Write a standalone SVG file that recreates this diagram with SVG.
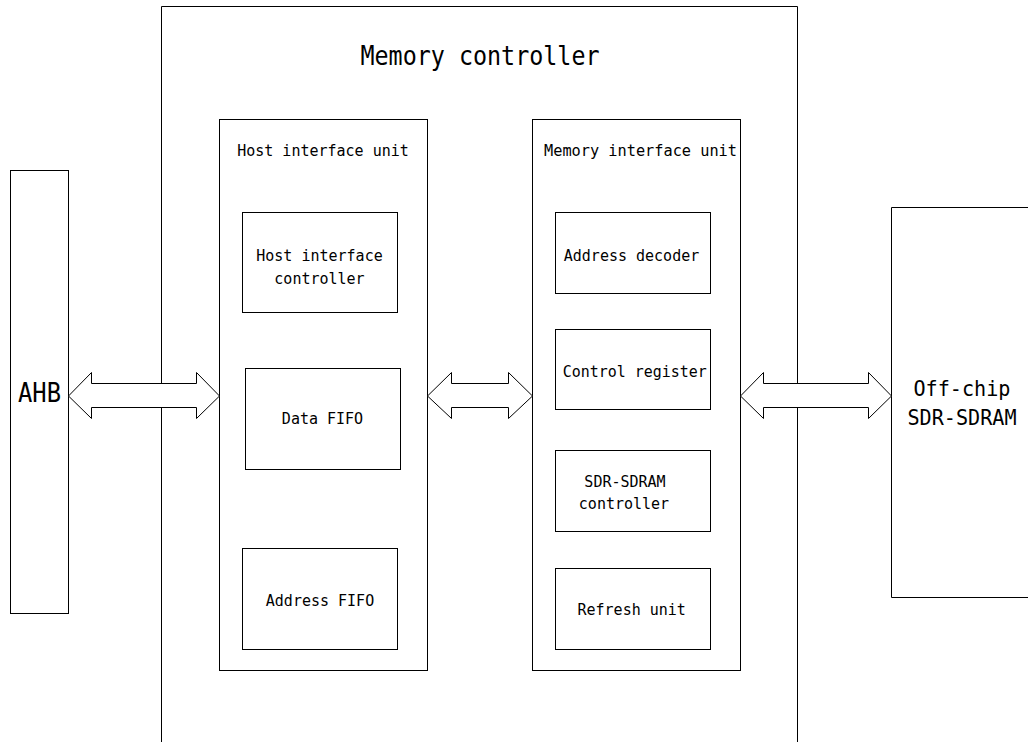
<svg xmlns="http://www.w3.org/2000/svg" width="1028" height="742" viewBox="0 0 1028 742">
<style>
.box{fill:none;stroke:#000;stroke-width:1}
.arr{fill:#fff;stroke:#000;stroke-width:1;stroke-linejoin:miter}
text{font-family:"DejaVu Sans Mono","Liberation Mono",monospace;fill:#000}
.s{font-size:15px;text-anchor:middle}
</style>
<rect width="1028" height="742" fill="#fff"/>
<g id="memory-controller">
<path class="box" d="M161.5,750 V6.5 H797.5 V750"/>
<text x="360.5" y="65" font-size="27" textLength="239" lengthAdjust="spacingAndGlyphs">Memory controller</text>
</g>
<g id="ahb">
<rect class="box" x="10.5" y="170.5" width="58" height="443"/>
<text x="18" y="402" font-size="27" textLength="43" lengthAdjust="spacingAndGlyphs">AHB</text>
</g>
<g id="off-chip">
<path class="box" d="M1040,207.5 H891.5 V597.5 H1040"/>
<text x="962" y="396" font-size="21.5" text-anchor="middle" textLength="97" lengthAdjust="spacingAndGlyphs">Off-chip</text>
<text x="962" y="425" font-size="21.5" text-anchor="middle" textLength="109" lengthAdjust="spacingAndGlyphs">SDR-SDRAM</text>
</g>
<g id="host-interface-unit">
<rect class="box" x="219.5" y="119.5" width="208" height="551"/>
<text class="s" x="323" y="156">Host interface unit</text>
</g>
<g id="host-interface-controller">
<rect class="box" x="242.5" y="212.5" width="155" height="100"/>
<text class="s" x="319.5" y="261">Host interface</text>
<text class="s" x="319.5" y="284">controller</text>
</g>
<g id="data-fifo">
<rect class="box" x="245.5" y="368.5" width="155" height="101"/>
<text class="s" x="322.5" y="424">Data FIFO</text>
</g>
<g id="address-fifo">
<rect class="box" x="242.5" y="548.5" width="155" height="101"/>
<text class="s" x="320" y="606">Address FIFO</text>
</g>
<g id="memory-interface-unit">
<rect class="box" x="532.5" y="119.5" width="208" height="551"/>
<text x="544" y="156" font-size="15" textLength="193" lengthAdjust="spacingAndGlyphs">Memory interface unit</text>
</g>
<g id="address-decoder">
<rect class="box" x="555.5" y="212.5" width="155" height="81"/>
<text class="s" x="631.5" y="261">Address decoder</text>
</g>
<g id="control-register">
<rect class="box" x="555.5" y="329.5" width="155" height="80"/>
<text class="s" x="634.7" y="377" textLength="144" lengthAdjust="spacingAndGlyphs">Control register</text>
</g>
<g id="sdr-sdram-controller">
<rect class="box" x="555.5" y="450.5" width="155" height="81"/>
<text class="s" x="625" y="487">SDR-SDRAM</text>
<text class="s" x="624" y="509">controller</text>
</g>
<g id="refresh-unit">
<rect class="box" x="555.5" y="568.5" width="155" height="81"/>
<text class="s" x="631.7" y="615">Refresh unit</text>
</g>
<g id="connectors">
<polygon class="arr" points="68.5,396 91.5,372.5 91.5,383.5 196.5,383.5 196.5,372.5 219.5,396 196.5,418.5 196.5,407.5 91.5,407.5 91.5,418.5"/>
<polygon class="arr" points="427.5,396 451.5,372.5 451.5,383.5 508.5,383.5 508.5,372.5 532.5,396 508.5,418.5 508.5,407.5 451.5,407.5 451.5,418.5"/>
<polygon class="arr" points="740.5,396 763.5,372.5 763.5,383.5 868.5,383.5 868.5,372.5 891.5,396 868.5,418.5 868.5,407.5 763.5,407.5 763.5,418.5"/>
</g>
</svg>
